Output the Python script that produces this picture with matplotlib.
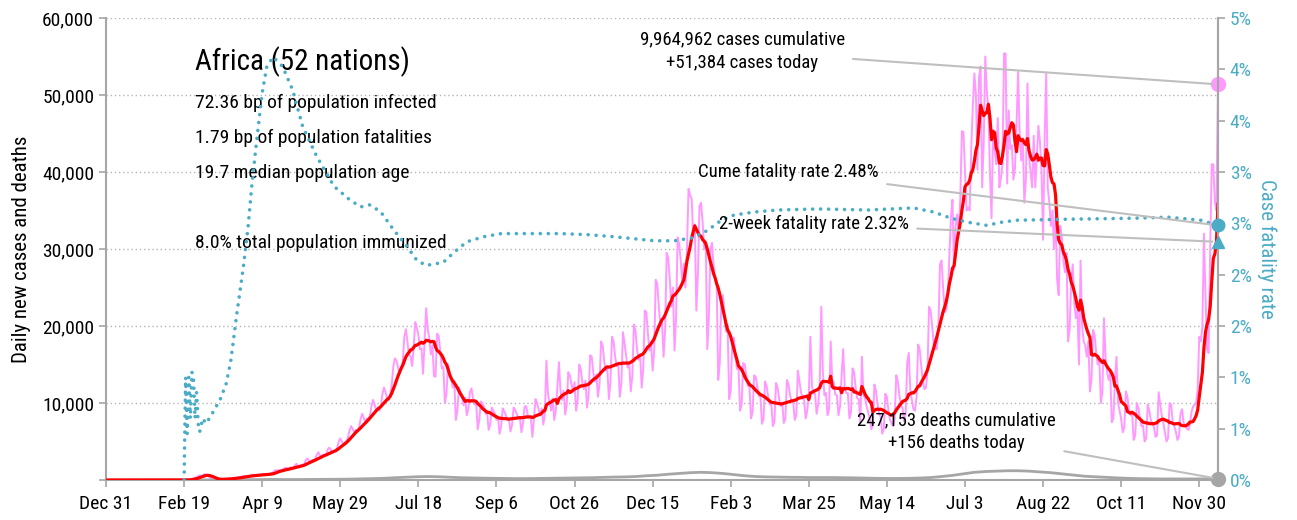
import matplotlib
matplotlib.use("Agg")
import matplotlib.pyplot as plt
from matplotlib import font_manager as fm
from matplotlib.ticker import FuncFormatter
import numpy as np
import pandas as pd


def pick_condensed():
    # use a narrow sans if one is installed, else plain DejaVu
    entries = fm.fontManager.ttflist
    names = {f.name for f in entries}
    for name in ['Roboto Condensed', 'Liberation Sans Narrow', 'Open Sans Condensed',
                 'Noto Sans Condensed', 'DejaVu Sans Condensed', 'Arial Narrow']:
        if name in names:
            return name, 'normal'
    for f in entries:
        if str(f.stretch) in ('condensed', 'semi-condensed') and str(f.weight) in ('400', 'normal', 'regular'):
            return f.name, 'condensed'
    for f in entries:
        if 'Condensed' in f.name or 'Narrow' in f.name:
            return f.name, 'normal'
    return 'DejaVu Sans', 'normal'


FONT, STRETCH = pick_condensed()
plt.rcParams['font.family'] = [FONT, 'DejaVu Sans']
plt.rcParams['font.stretch'] = STRETCH

# daily new cases (thousands), one row per week starting Dec 31 2019
cases_k = [
    0, 0, 0, 0, 0, 0, 0,
    0, 0, 0, 0, 0, 0, 0,
    0, 0, 0, 0, 0, 0, 0,
    0, 0, 0, 0, 0, 0, 0,
    0, 0, 0, 0, 0, 0, 0,
    0, 0, 0, 0, 0, 0, 0,
    0, 0, 0, 0, 0, 0, 0,
    0.0, 0.01, 0.02, 0.03, 0.05, 0.1, 0.14,
    0.2, 0.3, 0.4, 0.5, 0.6, 0.55, 0.6,
    0.75, 0.7, 0.55, 0.4, 0.25, 0.1, 0.05,
    0.1, 0.05, 0.1, 0.1, 0.1, 0.15, 0.1,
    0.1, 0.15, 0.2, 0.2, 0.25, 0.25, 0.25,
    0.3, 0.35, 0.4, 0.45, 0.5, 0.5, 0.5,
    0.5, 0.55, 0.6, 0.7, 0.6, 0.6, 0.65,
    0.65, 0.7, 0.75, 0.8, 0.7, 0.7, 0.75,
    0.8, 0.9, 1.0, 1.2, 1.3, 1.2, 1.3,
    1.2, 1.3, 1.5, 1.6, 1.5, 1.4, 1.65,
    1.5, 1.6, 1.9, 2.1, 1.8, 1.7, 2.0,
    1.9, 2.1, 2.6, 2.8, 2.5, 2.3, 2.6,
    2.5, 2.8, 3.3, 3.6, 3.2, 3.0, 3.3,
    3.1, 3.3, 4.0, 4.2, 3.9, 3.6, 3.8,
    3.8, 4.2, 5.0, 5.4, 5.0, 4.6, 4.9,
    5.0, 5.6, 6.5, 7.0, 6.6, 6.2, 6.5,
    6.3, 6.8, 7.9, 8.6, 8.1, 7.5, 8.0,
    7.8, 8.4, 9.6, 10.4, 9.8, 9.0, 9.4,
    9.0, 9.6, 11.2, 12.0, 11.4, 10.6, 10.4,
    11.0, 12.5, 14.8, 15.8, 15.5, 14.6, 13.8,
    14.5, 15.3, 18.6, 19.6, 18.0, 16.2, 16.1,
    14.8, 17.2, 20.5, 19.8, 18.9, 17.0, 17.1,
    13.8, 18.1, 22.3, 19.6, 18.4, 16.3, 17.5,
    13.5, 13.4, 19.0, 18.7, 16.8, 14.5, 14.7,
    10.0, 11.2, 15.0, 13.8, 13.3, 12.0, 12.9,
    7.8, 9.0, 12.0, 11.4, 10.8, 9.7, 10.7,
    8.4, 9.2, 11.4, 11.9, 10.6, 9.8, 10.1,
    6.6, 7.8, 10.2, 10.0, 9.5, 8.6, 8.9,
    6.5, 7.2, 9.4, 9.0, 8.6, 7.8, 8.2,
    6.0, 7.0, 9.3, 8.9, 8.4, 7.8, 7.9,
    6.3, 7.2, 9.4, 9.1, 8.6, 8.0, 8.1,
    6.2, 7.4, 9.5, 9.6, 8.5, 8.1, 8.1,
    5.6, 7.9, 10.5, 10.0, 9.2, 8.4, 9.3,
    7.2, 8.6, 15.5, 11.2, 10.0, 9.0, 10.6,
    7.8, 9.0, 12.0, 15.3, 11.6, 10.4, 11.6,
    8.5, 9.8, 14.0, 13.6, 12.5, 11.5, 12.7,
    9.0, 10.4, 15.0, 14.4, 12.6, 11.8, 12.9,
    9.4, 11.0, 16.2, 16.0, 14.0, 12.8, 13.7,
    10.8, 12.5, 18.0, 17.5, 15.4, 14.2, 14.5,
    10.5, 12.8, 18.6, 18.0, 16.0, 14.8, 15.0,
    10.8, 12.6, 19.2, 17.8, 16.2, 14.6, 15.2,
    11.5, 13.5, 20.2, 19.4, 17.0, 15.6, 16.2,
    12.0, 14.5, 22.0, 21.8, 18.9, 16.8, 17.9,
    14.2, 16.8, 26.0, 25.5, 22.4, 20.0, 20.7,
    16.0, 19.5, 29.5, 28.8, 26.0, 22.5, 25.0,
    16.8, 21.0, 31.5, 30.6, 28.5, 25.5, 28.1,
    25.0, 30.0, 37.8, 37.0, 36.5, 31.5, 33.2,
    22.0, 26.8, 35.6, 36.0, 33.5, 30.0, 31.0,
    17.0, 21.0, 30.0, 30.8, 28.0, 26.0, 25.7,
    13.0, 15.2, 23.5, 24.0, 21.4, 19.3, 20.1,
    10.5, 11.6, 18.0, 18.5, 16.2, 14.4, 14.4,
    9.0, 9.8, 15.2, 15.0, 13.5, 12.2, 12.1,
    8.0, 8.8, 13.6, 13.4, 12.1, 10.9, 10.9,
    7.3, 7.9, 12.8, 12.2, 10.8, 9.8, 9.9,
    7.0, 7.6, 12.6, 12.0, 10.5, 9.6, 10.0,
    7.4, 8.0, 13.0, 12.4, 11.0, 10.2, 10.1,
    7.8, 8.4, 14.2, 12.8, 11.4, 10.6, 10.4,
    8.0, 9.0, 11.0, 18.6, 12.2, 11.2, 11.2,
    8.6, 9.8, 12.4, 22.5, 14.0, 11.0, 11.3,
    8.4, 9.2, 18.0, 13.0, 12.6, 11.1, 11.0,
    8.4, 9.6, 13.6, 17.0, 12.1, 11.3, 11.3,
    8.0, 8.8, 14.5, 14.0, 12.0, 10.6, 10.5,
    7.4, 16.0, 11.0, 10.6, 9.6, 8.8, 8.0,
    6.6, 7.2, 12.4, 11.6, 9.8, 8.6, 8.2,
    6.0, 6.6, 11.2, 10.8, 9.0, 7.8, 7.4,
    7.0, 8.0, 13.6, 12.8, 11.0, 9.6, 9.4,
    7.6, 8.6, 15.2, 16.5, 11.6, 10.4, 9.2,
    9.0, 10.8, 17.6, 17.0, 14.8, 12.8, 11.8,
    12.0, 14.2, 22.5, 22.0, 20.0, 17.6, 17.0,
    17.0, 20.0, 28.0, 28.5, 25.0, 21.8, 22.1,
    24.0, 29.0, 34.2, 36.4, 27.3, 33.0, 34.5,
    32.0, 36.6, 45.3, 45.2, 40.0, 35.0, 35.4,
    35.0, 43.0, 48.5, 52.8, 50.0, 40.3, 52.4,
    53.7, 38.0, 44.0, 55.0, 50.5, 48.0, 39.8,
    34.0, 45.5, 43.0, 41.0, 47.0, 38.0, 39.2,
    41.0, 55.4, 55.4, 38.5, 48.0, 43.0, 43.5,
    39.0, 40.5, 46.0, 53.0, 45.0, 41.5, 44.4,
    36.0, 39.0, 51.5, 42.0, 40.0, 38.0, 44.7,
    38.0, 42.0, 46.0, 44.0, 40.0, 31.2, 44.4,
    52.8, 38.0, 36.0, 33.0, 35.0, 30.0, 34.2,
    26.0, 24.0, 33.0, 31.5, 28.5, 27.0, 29.5,
    18.0, 19.5, 26.0, 28.0, 23.0, 21.0, 22.0,
    15.0, 28.5, 20.0, 18.0, 17.5, 16.0, 18.0,
    11.5, 13.0, 19.5, 18.8, 16.5, 15.0, 15.6,
    10.0, 11.5, 21.0, 16.0, 14.0, 13.0, 13.9,
    7.5, 8.0, 13.0, 16.0, 10.0, 9.0, 7.9,
    6.2, 6.8, 11.5, 10.8, 9.2, 8.4, 8.7,
    5.2, 5.8, 10.0, 9.4, 8.0, 7.0, 7.1,
    5.0, 5.4, 9.8, 9.0, 7.8, 7.2, 6.9,
    5.6, 5.8, 11.4, 9.8, 8.4, 7.4, 6.2,
    5.0, 5.4, 10.0, 9.8, 7.6, 7.0, 6.3,
    5.2, 5.6, 8.6, 9.2, 7.4, 7.0, 6.7,
    6.5, 7.2, 8.8, 9.5, 9.8, 10.0, 11.9,
    18.6, 18.0, 20.0, 32.0, 24.0, 17.0, 16.5,
    30.0, 41.0, 41.0, 36.0, 35.0, 51.384,
]

# weekly average of daily deaths (thousands)
deaths_k = [
    0, 0, 0, 0, 0, 0, 0, 0.001, 0.005, 0.01,
    0.02, 0.03, 0.04, 0.05, 0.06, 0.07, 0.06, 0.06, 0.07, 0.08,
    0.09, 0.1, 0.12, 0.15, 0.18, 0.22, 0.3, 0.36, 0.42, 0.45,
    0.42, 0.36, 0.3, 0.27, 0.24, 0.22, 0.2, 0.18, 0.18, 0.2,
    0.22, 0.24, 0.26, 0.28, 0.3, 0.34, 0.38, 0.4, 0.45, 0.55,
    0.62, 0.75, 0.85, 0.95, 1.0, 0.95, 0.85, 0.7, 0.55, 0.45,
    0.4, 0.38, 0.35, 0.34, 0.32, 0.32, 0.32, 0.3, 0.28, 0.25,
    0.22, 0.2, 0.2, 0.22, 0.26, 0.32, 0.45, 0.6, 0.8, 1.0,
    1.1, 1.15, 1.2, 1.2, 1.15, 1.05, 0.95, 0.8, 0.65, 0.5,
    0.42, 0.35, 0.28, 0.22, 0.18, 0.16, 0.14, 0.14, 0.14, 0.14, 0.15, 0.16,
]
deaths_today = 156

# cumulative case fatality rate (%), by day since Dec 31
cfr_day = [50, 51, 52, 53, 54, 55, 56, 57, 58, 59, 60, 62, 64, 67, 70, 73, 77,
           80, 83.5, 88, 91, 93.5, 96.5, 100, 103, 107, 113, 119.5, 126, 135,
           146, 156, 163, 169, 176, 184, 193, 199, 205, 216, 223, 231, 242,
           253, 274, 291, 308, 325, 338, 351, 364, 376, 385, 394, 402, 415,
           430, 456, 488, 517, 530, 541, 552, 564, 573, 583, 616, 659, 680,
           701, 712]
cfr_pct = [0.0, 1.0, 0.45, 1.0, 0.6, 1.05, 1.0, 0.6, 0.85, 0.55, 0.47, 0.6,
           0.55, 0.62, 0.7, 0.78, 0.94, 1.17, 1.59, 2.08, 2.47, 2.89, 3.31,
           3.77, 4.03, 4.12, 4.03, 3.80, 3.44, 3.15, 2.86, 2.73, 2.66, 2.68,
           2.61, 2.44, 2.27, 2.14, 2.09, 2.12, 2.22, 2.32, 2.37, 2.40, 2.40,
           2.40, 2.39, 2.37, 2.35, 2.33, 2.33, 2.36, 2.43, 2.53, 2.58, 2.61,
           2.63, 2.64, 2.63, 2.65, 2.61, 2.55, 2.51, 2.48, 2.51, 2.53, 2.54,
           2.55, 2.56, 2.53, 2.48]
cume_cfr = 2.48
two_week_cfr = 2.32

xtick_labels = ['Dec 31', 'Feb 19', 'Apr 9', 'May 29', 'Jul 18', 'Sep 6', 'Oct 26',
                'Dec 15', 'Feb 3', 'Mar 25', 'May 14', 'Jul 3', 'Aug 22', 'Oct 11',
                'Nov 30']
rtick_labels = ['0%', '1%', '1%', '2%', '2%', '3%', '3%', '4%', '4%', '5%']

info_lines = ['72.36 bp of population infected',
              '1.79 bp of population fatalities',
              '19.7 median population age']
immunized = '8.0% total population immunized'

PINK = '#ff99ff'
RED = '#ff0000'
CYAN = '#4bacc6'
GREY = '#a6a6a6'
LINE = '#bfbfbf'

cases = pd.Series(cases_k) * 1000
avg7 = cases.rolling(7, min_periods=1).mean()
days = np.arange(len(cases))
deaths = np.array(deaths_k) * 1000
death_days = np.arange(len(deaths)) * 7 + 3
last = days[-1]

fig = plt.figure(figsize=(12.97, 5.2), dpi=100)
ax = fig.add_axes([106 / 1297, 40 / 520, 1112 / 1297, 462 / 520])

ax.plot(days, cases, color=PINK, lw=1.4, zorder=2)
ax.plot(death_days, deaths, color=GREY, lw=2, zorder=2)
ax.plot(days, avg7, color=RED, lw=2.3, zorder=3)

ax.set_xlim(0, last)
ax.set_ylim(0, 60000)
ax.set_xticks(np.arange(0, 701, 50))
ax.set_xticklabels(xtick_labels)
ax.set_yticks(np.arange(0, 60001, 10000))
ax.yaxis.set_major_formatter(FuncFormatter(lambda v, p: '' if v == 0 else f'{int(v):,}'))
ax.yaxis.grid(True, linestyle=(0, (1, 2)), color='#b5b5b5', lw=1)
ax.set_axisbelow(True)
ax.set_ylabel('Daily new cases and deaths', fontsize=15, labelpad=8)
ax.tick_params(axis='both', direction='out', length=5, width=1.2, color=GREY, labelsize=14)
ax.tick_params(axis='x', pad=6)
for side in ['left', 'bottom', 'right']:
    ax.spines[side].set_color(GREY)
    ax.spines[side].set_linewidth(1.5)
ax.spines['top'].set_visible(False)

ax2 = ax.twinx()
ax2.plot(cfr_day, cfr_pct, color=CYAN, lw=2.6, linestyle=(0, (0.01, 2.2)),
         dash_capstyle='round', zorder=4)
ax2.set_ylim(0, 4.5)
ax2.set_yticks(np.arange(0, 4.51, 0.5))
ax2.set_yticklabels(rtick_labels)
ax2.tick_params(axis='y', direction='out', length=5, width=1.2, color=GREY,
                labelsize=14, labelcolor=CYAN)
ax2.set_ylabel('Case fatality rate', fontsize=15, color=CYAN, rotation=270, labelpad=18)
for side in ['left', 'bottom', 'top']:
    ax2.spines[side].set_visible(False)
ax2.spines['right'].set_color(GREY)
ax2.spines['right'].set_linewidth(1.5)

# end-of-series markers
ax.plot(last, cases.iloc[-1], 'o', color=PINK, ms=10, clip_on=False, zorder=6)
ax.plot(last, deaths_today, 'o', color=GREY, ms=10, clip_on=False, zorder=6)
ax2.plot(last, cume_cfr, 'o', color=CYAN, ms=9, clip_on=False, zorder=6)
ax2.plot(last, two_week_cfr, '^', color=CYAN, ms=9, clip_on=False, zorder=6)

# summary text block
ax.text(0.080, 0.905, 'Africa (52 nations)', transform=ax.transAxes, fontsize=21,
        va='center', ha='left')
for i, line in enumerate(info_lines):
    ax.text(0.080, 0.816 - i * 0.076, line, transform=ax.transAxes, fontsize=14,
            va='center', ha='left')
ax.text(0.080, 0.513, immunized, transform=ax.transAxes, fontsize=14,
        va='center', ha='left')

# callouts
arrow = dict(arrowstyle='-', color=LINE, lw=1.5, shrinkA=4, shrinkB=4)
ax2.annotate(f'{9964962:,} cases cumulative\n+{int(cases.iloc[-1]):,} cases today',
             xy=(last, cases.iloc[-1] / 60000 * 4.5), xycoords='data',
             xytext=(0.572, 0.928), textcoords='axes fraction',
             ha='center', va='center', fontsize=13.5, linespacing=1.35,
             arrowprops=arrow, zorder=5)
ax2.annotate(f'Cume fatality rate {cume_cfr:.2f}%', xy=(last, cume_cfr),
             xytext=(0.695, 0.667), textcoords='axes fraction',
             ha='right', va='center', fontsize=13.5, arrowprops=arrow, zorder=5)
ax2.annotate(f'2-week fatality rate {two_week_cfr:.2f}%', xy=(last, two_week_cfr),
             xytext=(0.722, 0.554), textcoords='axes fraction',
             ha='right', va='center', fontsize=13.5, arrowprops=arrow, zorder=5)
ax2.annotate(f'{247153:,} deaths cumulative\n+{deaths_today} deaths today',
             xy=(last, deaths_today / 60000 * 4.5), xycoords='data',
             xytext=(0.765, 0.104), textcoords='axes fraction',
             ha='center', va='center', fontsize=13.5, linespacing=1.35,
             arrowprops=arrow, zorder=5)

fig.savefig('out.png', dpi=100)
